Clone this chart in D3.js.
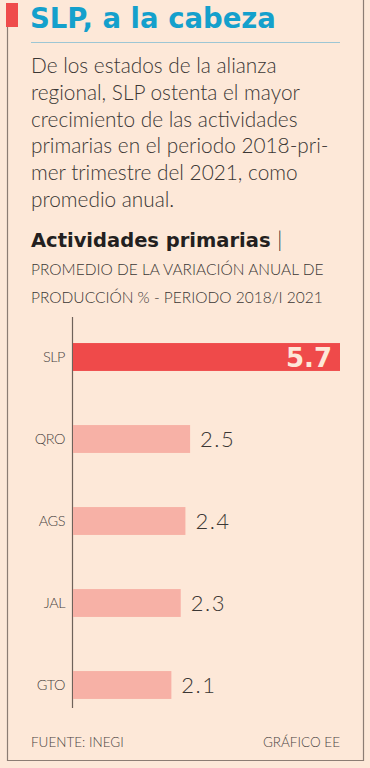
<!DOCTYPE html>
<html>
<head>
<meta charset="utf-8">
<script src="https://cdn.jsdelivr.net/npm/d3@7"></script>
<style>
  body { margin: 0; background: #fde8d8; }
  text { font-family: Lato, "Open Sans", sans-serif; }
</style>
</head>
<body>
<div id="chart"></div>
<script>
// data
var estados = ["SLP", "QRO", "AGS", "JAL", "GTO"];
var valores = [5.7, 2.5, 2.4, 2.3, 2.1];
var resaltado = "SLP";

var titulo = "SLP, a la cabeza";
var texto = [
  "De los estados de la alianza",
  "regional, SLP ostenta el mayor",
  "crecimiento de las actividades",
  "primarias en el periodo 2018-pri-",
  "mer trimestre del 2021, como",
  "promedio anual."
];
var subtitulo = [
  "PROMEDIO DE LA VARIACIÓN ANUAL DE",
  "PRODUCCIÓN % - PERIODO 2018/I 2021"
];

var width = 370,
  height = 768;

var svg = d3.select("#chart")
  .append("svg")
  .attr("width", width)
  .attr("height", height);

svg.append("rect")
  .attr("width", width)
  .attr("height", height)
  .attr("fill", "#fde8d8");

// frame
var frame = "#8c7d74";
svg.append("path")
  .attr("d", "M7.5,26 V760.5 H363.5 V0")
  .attr("fill", "none")
  .attr("stroke", frame)
  .attr("stroke-width", 1.2);

svg.append("rect")
  .attr("x", 6)
  .attr("y", 3)
  .attr("width", 12)
  .attr("height", 24)
  .attr("fill", "#ef4b4b");

svg.append("text")
  .attr("x", 30)
  .attr("y", 28)
  .attr("fill", "#14a0cc")
  .style("font-family", "'DejaVu Sans', sans-serif")
  .style("font-size", "27.5px")
  .style("font-weight", 700)
  .text(titulo);

svg.append("line")
  .attr("x1", 31).attr("x2", 340)
  .attr("y1", 42.5).attr("y2", 42.5)
  .attr("stroke", "#9dc6d4")
  .attr("stroke-width", 1.2);

svg.selectAll(".texto")
  .data(texto)
  .enter()
  .append("text")
  .attr("class", "texto")
  .attr("x", 31)
  .attr("y", function(d, i) { return 73 + i * 26.8; })
  .attr("fill", "#3b3735")
  .style("font-size", "20.8px")
  .style("font-weight", 300)
  .text(function(d) { return d; });

var head = svg.append("text")
  .attr("x", 31)
  .attr("y", 247)
  .attr("fill", "#231f20")
  .style("font-size", "19.5px");
head.append("tspan")
  .style("font-family", "'DejaVu Sans', sans-serif")
  .style("font-weight", 700)
  .text("Actividades primarias ");
head.append("tspan").style("font-weight", 300).style("font-size", "21px").text("|");

svg.selectAll(".sub")
  .data(subtitulo)
  .enter()
  .append("text")
  .attr("class", "sub")
  .attr("x", 31)
  .attr("y", function(d, i) { return 275 + i * 28; })
  .attr("fill", "#3b3735")
  .style("font-size", "15.5px")
  .style("font-weight", 300)
  .text(function(d) { return d; });

// chart
var x0 = 73;
var x = d3.scaleLinear()
  .domain([0, 5.7])
  .range([x0, 340]);

var y = d3.scaleBand()
  .domain(estados)
  .range([316, 726])
  .paddingInner(0.66)
  .paddingOuter(0.33);

svg.append("line")
  .attr("x1", 72.5).attr("x2", 72.5)
  .attr("y1", 317).attr("y2", 708)
  .attr("stroke", "#6e625a")
  .attr("stroke-width", 1.2);

var data = estados.map(function(d, i) {
  return { estado: d, valor: valores[i] };
});

var bar = svg.selectAll(".bar")
  .data(data)
  .enter()
  .append("g")
  .attr("class", "bar");

bar.append("rect")
  .attr("x", x(0))
  .attr("y", function(d) { return y(d.estado); })
  .attr("width", function(d) { return x(d.valor) - x(0); })
  .attr("height", y.bandwidth())
  .attr("fill", function(d) {
    return d.estado == resaltado ? "#ef4a4a" : "#f7b1a6";
  });

bar.append("text") // state label
  .attr("x", 65)
  .attr("y", function(d) { return y(d.estado) + y.bandwidth() / 2 + 5; })
  .attr("text-anchor", "end")
  .attr("fill", "#4a4442")
  .style("font-size", "14.5px")
  .style("font-weight", 300)
  .style("letter-spacing", "-0.5px")
  .text(function(d) { return d.estado; });

bar.append("text") // value label
  .attr("x", function(d) {
    return d.estado == resaltado ? x(d.valor) - 8 : x(d.valor) + 10;
  })
  .attr("y", function(d) {
    return y(d.estado) + y.bandwidth() / 2 + (d.estado == resaltado ? 10 : 8);
  })
  .attr("text-anchor", function(d) { return d.estado == resaltado ? "end" : "start"; })
  .attr("fill", function(d) { return d.estado == resaltado ? "#fde8d8" : "#3b3735"; })
  .style("font-family", function(d) { return d.estado == resaltado ? "'DejaVu Sans', sans-serif" : null; })
  .style("font-size", function(d) { return d.estado == resaltado ? "26px" : "22px"; })
  .style("font-weight", function(d) { return d.estado == resaltado ? 700 : 300; })
  .style("letter-spacing", function(d) { return d.estado == resaltado ? "0px" : "1.5px"; })
  .text(function(d) { return d3.format(".1f")(d.valor); });

// footer
svg.append("text")
  .attr("x", 31)
  .attr("y", 747)
  .attr("fill", "#4a4442")
  .style("font-size", "13.5px")
  .style("font-weight", 300)
  .text("FUENTE: INEGI");

svg.append("text")
  .attr("x", 340)
  .attr("y", 747)
  .attr("text-anchor", "end")
  .attr("fill", "#4a4442")
  .style("font-size", "13.5px")
  .style("font-weight", 300)
  .text("GRÁFICO EE");
</script>
</body>
</html>
